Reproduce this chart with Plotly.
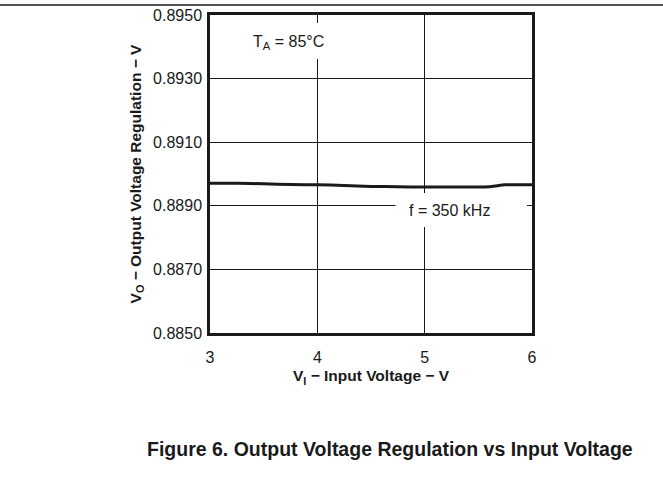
import plotly.graph_objects as go

# Data
vin = [3.0, 3.25, 3.5, 3.75, 4.0, 4.25, 4.5, 4.75, 5.0, 5.25, 5.5, 5.6, 5.75, 6.0]
vout = [0.88971, 0.88971, 0.88969, 0.88967, 0.88966, 0.88964, 0.88961, 0.88960,
        0.88959, 0.88959, 0.88959, 0.88960, 0.88966, 0.88966]
x_ticks = [3, 4, 5, 6]
y_ticks = [0.8850, 0.8870, 0.8890, 0.8910, 0.8930, 0.8950]
y_labels = ["0.8850", "0.8870", "0.8890", "0.8910", "0.8930", "0.8950"]

FONT = "Liberation Sans, Arial, sans-serif"
INK = "#1a1a1a"
W, H = 663, 496
L, R, T, B = 210, 131, 15, 163
pw, ph = W - L - R, H - T - B

fig = go.Figure()
fig.add_trace(go.Scatter(x=vin, y=vout, mode="lines",
                         line=dict(color=INK, width=3, shape="spline", smoothing=0.6),
                         hoverinfo="skip", showlegend=False))

# white masks behind labels (between gridlines and trace)
fig.add_shape(type="rect", xref="x", yref="y", x0=4.729, x1=5.953, y0=0.888333, y1=0.889402,
              fillcolor="white", line=dict(width=0), layer="between")
fig.add_shape(type="rect", xref="x", yref="y", x0=3.30, x1=4.15, y0=0.893616, y1=0.894748,
              fillcolor="white", line=dict(width=0), layer="between")

fig.add_annotation(x=3.73, y=0.89412, xref="x", yref="y", showarrow=False,
                   text="T<sub>A</sub> = 85°C", font=dict(family=FONT, size=16, color=INK))
fig.add_annotation(x=5.234, y=0.888868, xref="x", yref="y", showarrow=False,
                   text="f = 350 kHz", font=dict(family=FONT, size=16, color=INK))

# top rule across page
fig.add_shape(type="line", xref="paper", yref="paper",
              x0=-L / pw, x1=(W - L) / pw, y0=1 + 10 / ph, y1=1 + 10 / ph,
              line=dict(color=INK, width=1.5))

# caption
fig.add_annotation(x=(390 - L) / pw, y=1 - (449 - T) / ph, xref="paper", yref="paper",
                   showarrow=False, xanchor="center", yanchor="middle",
                   text="<b>Figure 6. Output Voltage Regulation vs Input Voltage</b>",
                   font=dict(family=FONT, size=19.5, color=INK))

fig.update_xaxes(range=[3, 6], tickvals=x_ticks, ticktext=[str(v) for v in x_ticks],
                 showgrid=True, gridcolor=INK, gridwidth=1,
                 showline=True, linecolor=INK, linewidth=2.5, mirror=True,
                 ticks="", ticklabelstandoff=8, zeroline=False,
                 tickfont=dict(family=FONT, size=16, color=INK),
                 title=dict(text="<b>V<sub>I</sub> − Input Voltage − V</b>", standoff=6,
                            font=dict(family=FONT, size=15.5, color=INK)))
fig.update_yaxes(range=[0.8850, 0.8950], tickvals=y_ticks, ticktext=y_labels,
                 showgrid=True, gridcolor=INK, gridwidth=1,
                 showline=True, linecolor=INK, linewidth=2.5, mirror=True,
                 ticks="", ticklabelstandoff=2, zeroline=False,
                 tickfont=dict(family=FONT, size=16, color=INK),
                 title=dict(text="<b>V<sub>O</sub> − Output Voltage Regulation − V</b>", standoff=8,
                            font=dict(family=FONT, size=15.5, color=INK)))

fig.update_layout(width=W, height=H, margin=dict(l=L, r=R, t=T, b=B, autoexpand=False),
                  paper_bgcolor="white", plot_bgcolor="white", showlegend=False)

fig.write_html("out.html", config={"displayModeBar": False},
               post_script="document.body.style.margin='0';")
